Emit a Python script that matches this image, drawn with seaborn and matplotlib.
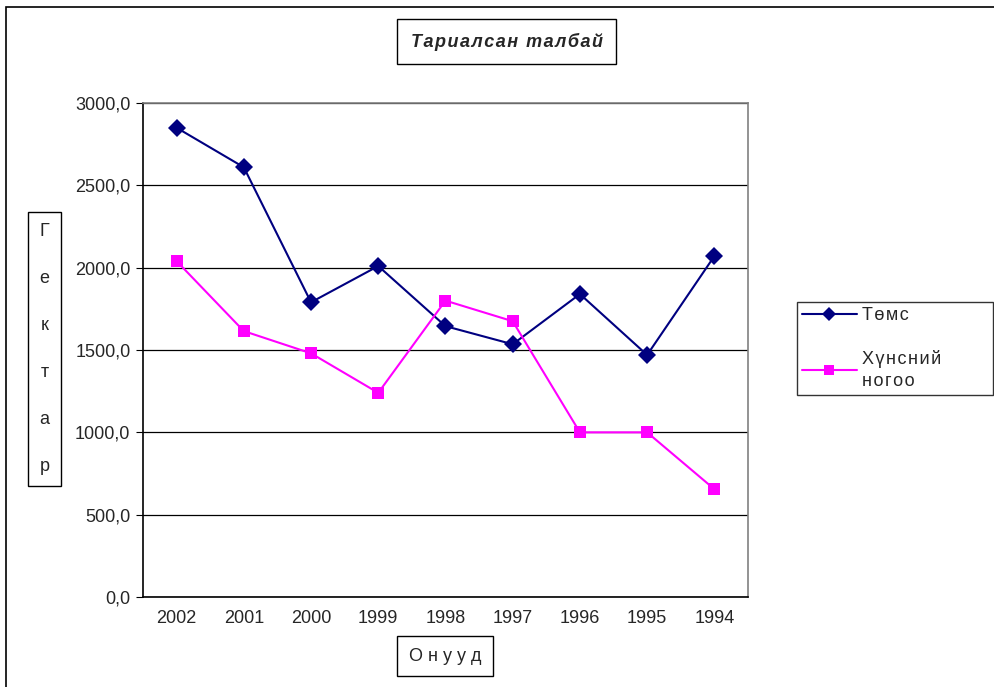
import matplotlib
matplotlib.use("Agg")
import matplotlib.pyplot as plt
import seaborn as sns
import pandas as pd
from matplotlib.patches import Rectangle

years = ["2002", "2001", "2000", "1999", "1998", "1997", "1996", "1995", "1994"]
potato = [2850, 2610, 1790, 2010, 1645, 1535, 1840, 1470, 2070]
vegetables = [2040, 1615, 1480, 1240, 1800, 1675, 1000, 1000, 655]
series_names = ["Төмс", "Хүнсний\nногоо"]
y_ticks = [0, 500, 1000, 1500, 2000, 2500, 3000]

sns.set_style("white")
plt.rcParams["font.family"] = ["Liberation Sans", "DejaVu Sans"]

SP = "\u200a"  # hair space, the original text is letter-spaced


def spaced(s):
    return "\n".join(SP.join(line) for line in s.split("\n"))


df = pd.DataFrame({
    "pos": list(range(len(years))) * 2,
    "value": potato + vegetables,
    "series": [spaced(series_names[0])] * len(years) + [spaced(series_names[1])] * len(years),
})

fig = plt.figure(figsize=(9.95, 6.87), dpi=100)
ax = fig.add_axes([0.1437, 0.131, 0.608, 0.719])

sns.lineplot(data=df, x="pos", y="value", hue="series", style="series",
             palette=["#000080", "#FF00FF"], markers=["D", "s"], dashes=False,
             markersize=9, linewidth=1.5, markeredgewidth=0, ax=ax)

ax.set_xlim(-0.5, len(years) - 0.5)
ax.set_ylim(0, 3000)
ax.set_yticks(y_ticks)
ax.set_yticklabels([f"{v:.1f}".replace(".", ",") for v in y_ticks], fontsize=13)
ax.set_xticks(range(len(years)))
ax.set_xticklabels(years, fontsize=13)
ax.set_xticks([i - 0.5 for i in range(len(years) + 1)], minor=True)
ax.tick_params(axis="x", which="major", length=0, pad=9)
ax.tick_params(axis="x", which="minor", length=5, color="black", direction="out")
ax.tick_params(axis="y", length=5, color="black", direction="out", left=True, pad=4)
ax.yaxis.grid(True, color="black", linewidth=0.9)
ax.set_axisbelow(True)
for s in ["left", "bottom"]:
    ax.spines[s].set_color("black")
    ax.spines[s].set_linewidth(1.2)
for s in ["top", "right"]:
    ax.spines[s].set_color("#808080")
    ax.spines[s].set_linewidth(1.2)
ax.set_xlabel("")
ax.set_ylabel("")

# title
fig.text(0.5095, 0.939, spaced("Тариалсан талбай"), ha="center", va="center",
         fontsize=13, fontweight="bold", style="italic",
         bbox=dict(facecolor="white", edgecolor="black", boxstyle="square,pad=0.75"))

# y label, stacked letters in a box
fig.text(0.0447, 0.492, "Г\nе\nк\nт\nа\nр", ha="center", va="center",
         fontsize=13, linespacing=3.3,
         bbox=dict(facecolor="white", edgecolor="black", boxstyle="square,pad=0.65"))

# x label
fig.text(0.4475, 0.045, "О н у у д", ha="center", va="center", fontsize=13,
         bbox=dict(facecolor="white", edgecolor="black", boxstyle="square,pad=0.65"))

handles, labels = ax.get_legend_handles_labels()
for h in handles:
    h.set_markersize(7)
leg_box = (797 / 995, 1 - 393 / 687, 196 / 995, 91 / 687)
ax.legend(handles, labels, loc="upper left", bbox_to_anchor=leg_box,
          bbox_transform=fig.transFigure, mode="expand", borderaxespad=0,
          frameon=True, fancybox=False, edgecolor="black", fontsize=13,
          handlelength=3.0, handletextpad=0.3, labelspacing=1.4, borderpad=0.3)
leg = ax.get_legend()
leg.get_frame().set_linewidth(1.0)
for t in leg.get_texts():
    t.set_linespacing(1.4)

# outer chart border
fig.patches.append(Rectangle((6 / 995, -0.01), 1.2, 1.0 - 7 / 687 + 0.01,
                             transform=fig.transFigure,
                             fill=False, edgecolor="black", linewidth=1.2))

fig.savefig("out.png", dpi=100)
